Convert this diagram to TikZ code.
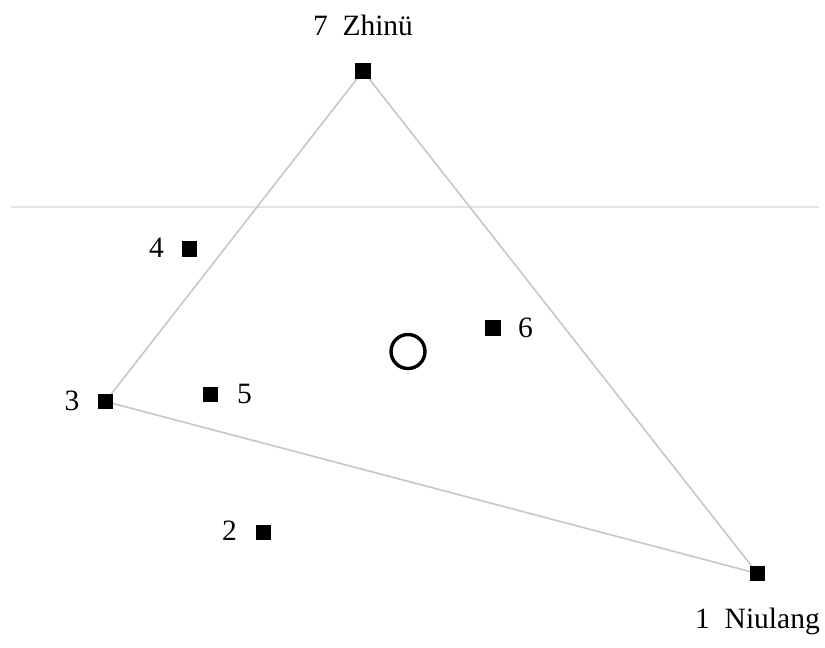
\documentclass[tikz,border=0pt]{standalone}
\usepackage{fontspec}
\setmainfont{Liberation Serif}
\usetikzlibrary{backgrounds}
\begin{document}
\begin{tikzpicture}[x=1pt,y=-1pt,
  pt/.style={fill=black, minimum size=15.5pt, inner sep=0pt, outer sep=0pt},
  lbl/.style={font=\fontsize{29.5}{32}\selectfont, inner sep=0pt, anchor=base},
  edgeline/.style={draw=black!22, line width=1.6pt},
  hline/.style={draw=black!11, line width=2pt},
  centre/.style={draw=black, line width=3.4pt, circle, minimum size=34pt, inner sep=0pt}]
\useasboundingbox (0,0) rectangle (825,648);
% points
\node[pt] (n7) at (363,71) {};
\node[pt] (n1) at (757.5,573.5) {};
\node[pt] (n3) at (105.5,401.5) {};
\node[pt] (n4) at (189.5,249) {};
\node[pt] (n5) at (210.5,394.5) {};
\node[pt] (n6) at (493,328) {};
\node[pt] (n2) at (263.5,532.5) {};
\node[centre] (c) at (408,351.5) {};
% labels
\node[lbl] (l7) at (363,35) {7\ \ Zhinü};
\node[lbl] (l1) at (757.5,628) {1\ \ Niulang};
\node[lbl] (l3) at (72,410) {3};
\node[lbl] (l4) at (156.5,257) {4};
\node[lbl] (l5) at (244.5,403) {5};
\node[lbl] (l6) at (525.5,337) {6};
\node[lbl] (l2) at (229.5,540) {2};
% lines
\coordinate (hl) at (11,207);
\coordinate (hr) at (819,207);
\begin{pgfonlayer}{background}
\draw[hline] (hl) -- (hr);
\draw[edgeline] (n7.center) -- (n3.center) -- (n1.center) -- (n7.center);
\end{pgfonlayer}
\end{tikzpicture}
\end{document}
